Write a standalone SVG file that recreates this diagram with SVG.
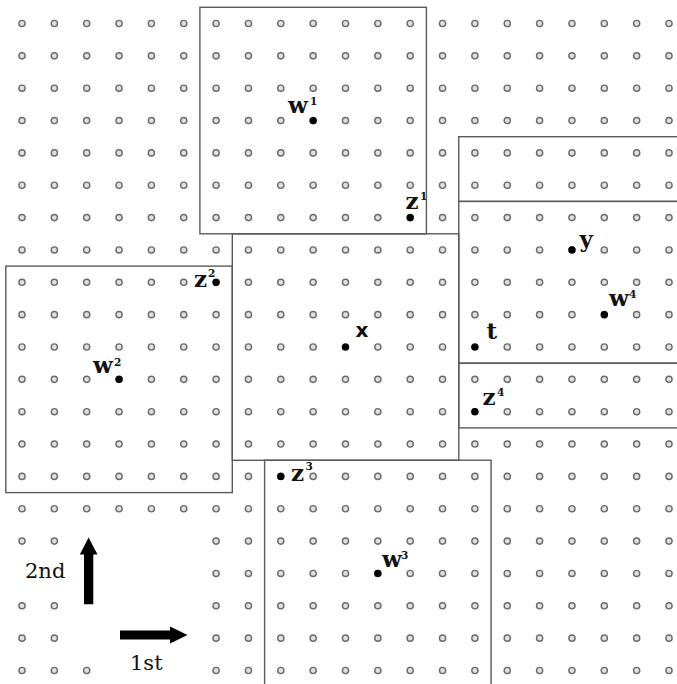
<svg xmlns="http://www.w3.org/2000/svg" xmlns:xlink="http://www.w3.org/1999/xlink" width="677" height="684" viewBox="0 0 677 684">
<style>
.dot{fill:#e0e0e0;stroke:#6a6a6a;stroke-width:1.4}
.pt{fill:#000}
.box{fill:none;stroke:#5a5a5a;stroke-width:1.4}
.lbl{font-family:"DejaVu Serif",serif;font-weight:bold;font-size:23px;fill:#111}
.sup{font-family:"DejaVu Serif",serif;font-weight:bold;font-size:10.5px;fill:#111}
.sans{font-family:"DejaVu Sans",sans-serif;font-weight:bold;font-size:20px;fill:#111}
.ax{font-family:"DejaVu Serif",serif;font-size:21px;fill:#111}
</style>
<defs>
<g id="row">
<circle class="dot" cx="22" cy="0" r="3.1"/><circle class="dot" cx="54.35" cy="0" r="3.1"/><circle class="dot" cx="86.7" cy="0" r="3.1"/><circle class="dot" cx="119.05" cy="0" r="3.1"/><circle class="dot" cx="151.4" cy="0" r="3.1"/><circle class="dot" cx="183.75" cy="0" r="3.1"/><circle class="dot" cx="216.1" cy="0" r="3.1"/><circle class="dot" cx="248.45" cy="0" r="3.1"/><circle class="dot" cx="280.8" cy="0" r="3.1"/><circle class="dot" cx="313.15" cy="0" r="3.1"/><circle class="dot" cx="345.5" cy="0" r="3.1"/><circle class="dot" cx="377.85" cy="0" r="3.1"/><circle class="dot" cx="410.2" cy="0" r="3.1"/><circle class="dot" cx="442.55" cy="0" r="3.1"/><circle class="dot" cx="474.9" cy="0" r="3.1"/><circle class="dot" cx="507.25" cy="0" r="3.1"/><circle class="dot" cx="539.6" cy="0" r="3.1"/><circle class="dot" cx="571.95" cy="0" r="3.1"/><circle class="dot" cx="604.3" cy="0" r="3.1"/><circle class="dot" cx="636.65" cy="0" r="3.1"/><circle class="dot" cx="669" cy="0" r="3.1"/>
</g>
</defs>
<rect x="0" y="0" width="677" height="684" fill="#fff"/>
<g id="grid">
<use xlink:href="#row" y="23.5"/><use xlink:href="#row" y="55.85"/><use xlink:href="#row" y="88.2"/><use xlink:href="#row" y="120.55"/><use xlink:href="#row" y="152.9"/><use xlink:href="#row" y="185.25"/><use xlink:href="#row" y="217.6"/><use xlink:href="#row" y="249.95"/><use xlink:href="#row" y="282.3"/><use xlink:href="#row" y="314.65"/><use xlink:href="#row" y="347"/><use xlink:href="#row" y="379.35"/><use xlink:href="#row" y="411.7"/><use xlink:href="#row" y="444.05"/><use xlink:href="#row" y="476.4"/><use xlink:href="#row" y="508.75"/><use xlink:href="#row" y="541.1"/><use xlink:href="#row" y="573.45"/><use xlink:href="#row" y="605.8"/><use xlink:href="#row" y="638.15"/><use xlink:href="#row" y="670.5"/>
<rect x="70.5" y="525" width="129.4" height="129.3" fill="#fff"/>
<rect x="0" y="557.3" width="70.5" height="32.3" fill="#fff"/>
<rect x="102.9" y="654.3" width="97" height="30" fill="#fff"/>
</g>
<g id="boxes">
<rect id="box-w1" class="box" x="199.9" y="7.3" width="226.5" height="226.5"/>
<rect id="box-w2" class="box" x="5.8" y="266.1" width="226.5" height="226.5"/>
<rect id="box-x" class="box" x="232.3" y="233.8" width="226.5" height="226.5"/>
<rect id="box-w3" class="box" x="264.6" y="460.2" width="226.5" height="240"/>
<rect id="box-r1" class="box" x="458.75" y="136.7" width="240" height="64.7"/>
<rect id="box-w4" class="box" x="458.75" y="201.4" width="240" height="161.8"/>
<rect id="box-r3" class="box" x="458.75" y="363.2" width="240" height="64.7"/>
</g>
<g id="points">
<g id="w1"><circle class="pt" cx="313.15" cy="120.55" r="3.6"/><text class="lbl" x="288" y="113">w</text><text class="sup" x="310" y="105">1</text></g>
<g id="z1"><circle class="pt" cx="410.2" cy="217.6" r="3.6"/><text class="lbl" x="405.5" y="208.5">z</text><text class="sup" x="420" y="200">1</text></g>
<g id="z2"><circle class="pt" cx="216.1" cy="282.3" r="3.6"/><text class="lbl" x="194" y="287">z</text><text class="sup" x="208" y="277">2</text></g>
<g id="w2"><circle class="pt" cx="119.05" cy="379.35" r="3.6"/><text class="lbl" x="93" y="373">w</text><text class="sup" x="114" y="366">2</text></g>
<g id="x"><circle class="pt" cx="345.5" cy="347" r="3.6"/><text class="sans" x="355.5" y="337">x</text></g>
<g id="y"><circle class="pt" cx="571.95" cy="249.95" r="3.6"/><text class="lbl" x="579.5" y="247">y</text></g>
<g id="w4"><circle class="pt" cx="604.3" cy="314.65" r="3.6"/><text class="lbl" x="609" y="306">w</text><text class="sup" x="629" y="298">4</text></g>
<g id="t"><circle class="pt" cx="474.9" cy="347" r="3.6"/><text class="lbl" x="486.5" y="339">t</text></g>
<g id="z4"><circle class="pt" cx="474.9" cy="411.7" r="3.6"/><text class="lbl" x="482.5" y="405">z</text><text class="sup" x="497" y="396">4</text></g>
<g id="z3"><circle class="pt" cx="280.8" cy="476.4" r="3.6"/><text class="lbl" x="291" y="481">z</text><text class="sup" x="305.5" y="470">3</text></g>
<g id="w3"><circle class="pt" cx="377.85" cy="573.45" r="3.6"/><text class="lbl" x="382" y="567">w</text><text class="sup" x="401" y="559">3</text></g>
</g>
<g id="axes">
<polygon fill="#000" points="84,604.3 93.3,604.3 93.3,554.5 97.5,554.5 88.6,537.5 79.8,554.5 84,554.5"/>
<polygon fill="#000" points="120,630.5 170,630.5 170,626.5 187.5,635 170,643.5 170,639.5 120,639.5"/>
<text class="ax" x="25" y="577.7">2nd</text>
<text class="ax" x="130" y="670">1st</text>
</g>
</svg>
